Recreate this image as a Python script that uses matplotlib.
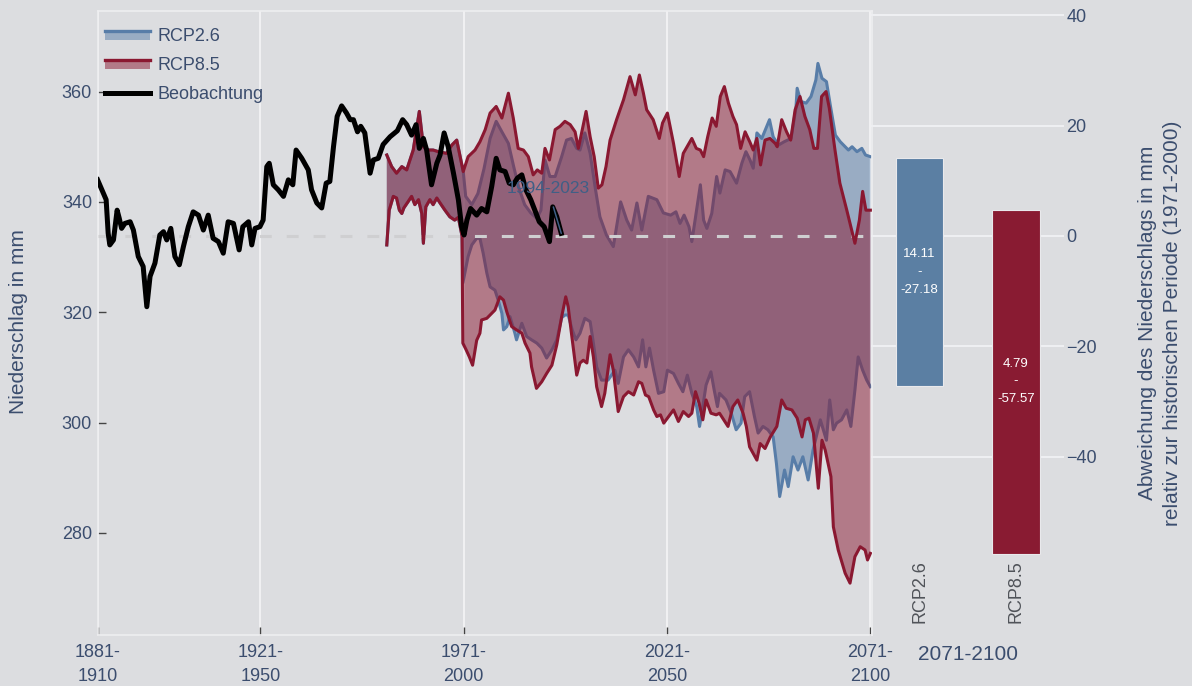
import numpy as np
import matplotlib.pyplot as plt
from matplotlib.lines import Line2D
from matplotlib.patches import Rectangle
from matplotlib.legend_handler import HandlerBase

plt.rcParams['font.family'] = ['Liberation Sans', 'DejaVu Sans']

BG = '#dcdde0'
TXT = '#3b4d6e'
BLUE = '#587da8'
RED = '#8a1831'
ANN = '#3f5f86'

# observed 30-year means (x = start year of window)
obs_years = [1881, 1883.1, 1883.6, 1884.0, 1884.9, 1885.8, 1886.3, 1886.9, 1887.7, 1889.0, 1889.8, 1891.0,
             1892.2, 1893.1, 1893.9, 1895.1, 1896.3, 1897.2, 1898.0, 1899.0, 1900.0, 1901.1, 1902.1, 1903.3,
             1904.5, 1905.8, 1907.0, 1908.2, 1909.4, 1910.7, 1911.9, 1913.1, 1914.4, 1915.8, 1916.7, 1918.1,
             1918.9, 1919.7, 1920.9, 1921.7, 1922.6, 1923.2, 1924.2, 1925.4, 1926.7, 1927.9, 1929.0, 1929.8,
             1931.2, 1932.8, 1933.6, 1934.9, 1936.1, 1937.2, 1938.1, 1939.0, 1939.9, 1941.0, 1942.2, 1943.1,
             1943.9, 1944.9, 1945.7, 1946.7, 1948.0, 1948.8, 1950.0, 1951.2, 1952.9, 1954.7, 1956.0, 1957.0,
             1958.2, 1959.3, 1960.1, 1961.1, 1961.9, 1963.1, 1964.4, 1965.2, 1966.2, 1967.2, 1968.5, 1969.7,
             1970.5, 1971.1, 1971.8, 1972.7, 1974.2, 1975.4, 1976.7, 1977.9, 1979.0, 1979.9, 1981.2, 1982.2,
             1983.2, 1984.2, 1985.3, 1986.3, 1987.5, 1988.5, 1989.6, 1990.8, 1992.1, 1992.9, 1993.9, 1995.0]
obs_vals = [344.0, 340.4, 334.3, 332.2, 333.1, 338.5, 337.1, 335.2, 336.1, 336.4, 334.9, 330.1,
            328.3, 321.0, 326.5, 328.9, 334.0, 334.6, 333.1, 335.2, 330.1, 328.6, 331.9, 335.5,
            338.2, 337.6, 334.9, 337.6, 333.4, 332.8, 330.7, 336.4, 336.1, 331.3, 335.5, 336.4,
            332.2, 335.2, 335.5, 336.7, 346.4, 347.0, 343.1, 342.2, 341.0, 344.0, 343.1, 349.4,
            347.9, 345.8, 342.2, 339.8, 338.9, 343.4, 343.7, 350.0, 355.5, 357.4, 356.1, 354.9,
            354.9, 352.7, 353.7, 352.5, 345.2, 347.6, 347.9, 350.4, 351.8, 352.9, 354.9, 354.0,
            352.1, 354.0, 349.7, 351.5, 349.4, 343.1, 347.0, 348.5, 352.5, 350.0, 345.2, 340.4,
            335.5, 334.0, 336.7, 338.8, 337.6, 338.8, 338.2, 342.8, 347.9, 345.8, 345.5, 343.4,
            343.1, 344.3, 344.9, 342.2, 340.4, 338.5, 336.4, 335.5, 332.8, 339.1, 337.3, 334.3]
obs_label = '1994-2023'

# mean of the reference period 1971-2000
baseline = 333.83

# model runs, historical part (same for both scenarios)
hist_up_years = [1952.1, 1953.3, 1954.5, 1955.8, 1957.0, 1958.6, 1960.1, 1961.1, 1962.3, 1963.5, 1964.8,
                 1966.8, 1968.1, 1969.3, 1970.9]
hist_up_vals = [348.5, 346.4, 345.2, 346.4, 345.8, 349.4, 356.4, 350.0, 349.4, 349.4, 349.1,
                348.8, 350.3, 351.2, 345.5]
hist_low_years = [1952.1, 1952.7, 1953.7, 1954.5, 1955.2, 1955.8, 1956.3, 1957.4, 1958.2, 1959.0, 1959.9,
                  1960.7, 1961.1, 1961.7, 1962.7, 1963.5, 1964.4, 1965.2, 1966.4, 1967.6, 1968.8, 1969.7,
                  1970.6]
hist_low_vals = [332.2, 338.5, 341.0, 340.7, 338.5, 337.9, 338.9, 340.1, 341.0, 339.5, 340.4,
                 337.9, 332.5, 339.1, 340.4, 339.5, 340.7, 339.8, 338.5, 337.3, 336.7, 337.2,
                 333.8]

# RCP8.5 ensemble max / min
r85_up_years = [1972.1, 1973.8, 1975.0, 1976.3, 1977.5, 1979.0, 1980.4, 1982.0, 1983.2, 1984.4, 1985.7,
                1986.9, 1988.1, 1989.1, 1990.2, 1991.0, 1992.1, 1993.5, 1994.7, 1995.9, 1997.2, 1998.4,
                1999.2, 2000.0, 2001.1, 2002.1, 2003.1, 2004.1, 2005.0, 2006.0, 2007.0, 2008.6, 2010.3,
                2011.9, 2013.2, 2014.2, 2015.2, 2016.0, 2017.6, 2019.1, 2019.9, 2021.1, 2022.6, 2024.0,
                2025.0, 2027.1, 2028.2, 2029.2, 2030.0, 2031.0, 2032.1, 2033.1, 2034.1, 2035.1, 2036.1,
                2037.2, 2038.1, 2039.1, 2040.2, 2041.4, 2042.2, 2043.1, 2044.0, 2045.1, 2046.3, 2047.6,
                2048.1, 2049.2, 2050.4, 2051.4, 2052.5, 2053.7, 2054.9, 2056.1, 2057.1, 2058.0, 2059.0,
                2060.1, 2060.9, 2062.3, 2063.5, 2065.2, 2067.2, 2068.3, 2069.1, 2069.9, 2071.0]
r85_up_vals = [348.2, 349.4, 350.9, 353.1, 356.1, 357.3, 355.2, 359.7, 355.2, 349.7, 349.4,
               348.2, 344.9, 345.8, 345.2, 349.7, 347.6, 353.1, 353.7, 354.6, 354.0, 352.7,
               349.7, 352.5, 356.4, 351.8, 348.2, 342.5, 343.1, 346.4, 351.2, 354.9, 358.5,
               362.7, 359.4, 363.0, 359.7, 356.7, 354.9, 351.5, 354.3, 356.1, 350.6, 344.6,
               348.8, 351.5, 349.7, 349.4, 348.2, 351.8, 355.2, 353.7, 359.1, 360.9, 357.9,
               355.5, 354.0, 349.7, 352.7, 350.8, 349.4, 351.5, 346.7, 351.2, 351.5, 350.6,
               350.0, 354.9, 352.7, 351.2, 356.7, 359.1, 355.5, 353.1, 349.7, 349.7, 359.1,
               360.0, 357.0, 349.4, 343.4, 338.5, 332.5, 336.7, 341.9, 338.5, 338.5]
r85_low_years = [1970.8, 1971.6, 1972.4, 1973.2, 1974.2, 1975.0, 1975.4, 1976.7, 1977.9, 1978.7, 1979.9,
                 1980.8, 1981.6, 1982.8, 1984.0, 1985.3, 1986.1, 1987.3, 1987.7, 1988.9, 1990.2, 1991.4,
                 1992.7, 1993.9, 1995.1, 1996.1, 1996.7, 1997.6, 1998.8, 1999.6, 2000.4, 2001.3, 2002.1,
                 2002.9, 2003.7, 2004.9, 2005.7, 2007.0, 2007.8, 2009.0, 2010.3, 2011.5, 2012.8, 2014.0,
                 2014.8, 2015.7, 2016.5, 2017.7, 2018.5, 2019.4, 2020.2, 2021.4, 2022.6, 2023.8, 2025.0,
                 2026.3, 2027.1, 2028.0, 2028.9, 2029.8, 2030.6, 2031.8, 2033.1, 2033.9, 2036.0, 2037.2,
                 2038.4, 2039.7, 2040.5, 2041.3, 2043.1, 2043.9, 2045.1, 2046.4, 2048.0, 2049.2, 2050.3,
                 2051.7, 2053.0, 2054.2, 2055.0, 2055.9, 2057.0, 2058.2, 2059.1, 2059.9, 2061.3, 2061.9,
                 2063.1, 2064.8, 2066.0, 2067.2, 2068.5, 2069.7, 2070.3, 2071.0]
r85_low_vals = [314.4, 313.2, 311.9, 310.4, 314.9, 316.2, 318.6, 318.9, 319.8, 320.4, 322.8,
                322.2, 320.1, 317.4, 316.8, 316.2, 314.4, 312.6, 310.1, 306.2, 307.4, 308.9,
                310.4, 314.1, 319.2, 322.8, 321.0, 315.6, 308.6, 310.8, 311.3, 310.8, 315.6,
                311.9, 306.5, 302.9, 305.3, 312.3, 309.5, 302.0, 304.7, 305.6, 305.0, 307.4,
                307.1, 305.0, 304.7, 302.3, 301.1, 301.4, 299.9, 301.1, 302.3, 300.2, 302.0,
                301.1, 301.7, 305.6, 303.5, 300.5, 304.1, 301.7, 301.4, 301.7, 299.3, 302.9,
                304.1, 301.7, 299.3, 295.6, 293.2, 296.2, 295.3, 297.4, 299.3, 304.1, 302.6,
                302.3, 300.8, 297.4, 300.5, 300.8, 298.1, 288.1, 296.8, 295.0, 290.2, 281.1,
                276.9, 272.7, 270.9, 275.7, 277.5, 276.9, 275.1, 276.3]

# RCP2.6 ensemble max / min
r26_up_years = [1971.5, 1973.0, 1974.5, 1976.0, 1977.5, 1979.0, 1980.4, 1982.0, 1983.3, 1984.6, 1986.0,
                1987.5, 1989.0, 1990.0, 1991.0, 1992.2, 1993.5, 1995.1, 1996.3, 1997.5, 1998.8, 1999.6,
                2000.8, 2002.1, 2003.3, 2004.5, 2006.1, 2007.8, 2009.6, 2011.1, 2012.3, 2013.6, 2014.8,
                2016.4, 2018.5, 2020.1, 2021.9, 2023.2, 2024.2, 2025.2, 2026.4, 2027.1, 2027.9, 2029.2,
                2030.0, 2030.8, 2032.0, 2033.2, 2034.0, 2035.3, 2036.5, 2038.1, 2039.4, 2040.4, 2041.4,
                2042.2, 2043.1, 2044.3, 2046.2, 2047.1, 2048.4, 2049.8, 2051.5, 2052.7, 2053.0, 2053.9,
                2055.2, 2056.4, 2057.6, 2058.1, 2059.1, 2060.2, 2061.2, 2062.4, 2063.6, 2064.8, 2065.6,
                2066.5, 2067.7, 2068.9, 2069.8, 2071.0]
r26_up_vals = [341.0, 339.5, 341.5, 346.0, 351.5, 354.6, 352.7, 350.6, 346.4, 342.5, 339.5,
               338.0, 337.0, 338.5, 347.6, 344.6, 344.6, 348.2, 351.2, 351.5, 349.7, 349.4,
               352.5, 348.8, 342.8, 337.3, 334.0, 331.9, 340.0, 336.7, 334.9, 339.8, 334.9,
               341.0, 340.4, 338.0, 337.6, 338.2, 336.1, 337.6, 335.5, 332.8, 336.7, 343.1,
               336.7, 335.2, 337.9, 344.6, 341.6, 345.8, 345.5, 343.4, 347.0, 349.1, 347.6,
               346.1, 352.5, 351.5, 354.9, 351.8, 350.3, 350.9, 351.5, 357.0, 360.6, 358.2,
               357.9, 359.1, 362.1, 365.1, 362.4, 361.8, 357.3, 352.1, 350.9, 350.0, 349.4,
               350.0, 349.1, 349.7, 348.5, 348.2]
r26_low_years = [1970.8, 1972.1, 1973.0, 1974.2, 1975.0, 1975.8, 1976.7, 1977.5, 1978.7, 1979.5, 1980.4,
                 1980.8, 1981.6, 1982.4, 1983.6, 1984.0, 1985.3, 1986.5, 1987.7, 1989.0, 1990.2, 1991.4,
                 1992.7, 1993.9, 1995.1, 1995.9, 1996.7, 1997.7, 1998.6, 1999.6, 2000.8, 2002.1, 2002.9,
                 2003.7, 2004.9, 2006.5, 2008.2, 2009.0, 2010.3, 2011.5, 2012.8, 2014.0, 2015.0, 2015.8,
                 2016.7, 2017.7, 2018.9, 2020.2, 2021.1, 2022.6, 2023.8, 2024.9, 2026.0, 2027.1, 2028.3,
                 2029.0, 2029.8, 2030.6, 2031.8, 2032.6, 2033.4, 2033.9, 2035.5, 2036.8, 2038.0, 2039.2,
                 2040.1, 2041.3, 2042.5, 2043.4, 2044.6, 2045.8, 2047.1, 2047.9, 2048.7, 2049.9, 2050.8,
                 2052.0, 2053.2, 2054.4, 2055.7, 2056.9, 2058.7, 2060.2, 2061.0, 2061.9, 2062.7, 2063.9,
                 2065.2, 2066.2, 2067.2, 2068.0, 2069.1, 2070.1, 2071.0]
r26_low_vals = [325.3, 330.1, 332.2, 333.4, 333.4, 330.7, 327.1, 324.6, 324.0, 322.2, 319.8,
                316.8, 317.4, 319.2, 316.2, 315.0, 318.0, 315.6, 315.0, 314.4, 313.5, 311.7,
                313.2, 315.0, 319.0, 319.5, 319.5, 316.8, 315.0, 316.2, 318.9, 318.3, 314.4,
                310.1, 307.7, 307.7, 309.5, 307.1, 311.9, 313.2, 311.9, 310.1, 315.0, 310.1,
                313.5, 309.5, 305.3, 305.6, 309.5, 308.9, 307.1, 305.6, 308.6, 305.3, 302.9,
                299.3, 302.9, 306.8, 309.2, 305.9, 302.9, 305.3, 304.1, 301.7, 298.7, 299.9,
                304.7, 305.6, 301.1, 298.1, 299.3, 298.7, 297.4, 292.6, 286.6, 291.4, 288.4,
                293.8, 291.4, 293.8, 289.6, 295.0, 300.5, 296.8, 304.1, 298.7, 299.9, 300.5,
                302.3, 299.3, 305.9, 311.9, 309.5, 307.7, 306.5]

# deviation ranges 2071-2100
scenarios = ['RCP2.6', 'RCP8.5']
dev_top = [14.11, 4.79]
dev_bottom = [-27.18, -57.57]
bar_period = '2071-2100'

x_ticks = [1881, 1921, 1971, 2021, 2071]
x_ticklabels = ['1881-\n1910', '1921-\n1950', '1971-\n2000', '2021-\n2050', '2071-\n2100']
y_ticks = [280, 300, 320, 340, 360]
dev_ticks = [-40, -20, 0, 20, 40]


class BandHandler(HandlerBase):
    # legend entry like plotly: filled band with the line on its top edge
    def create_artists(self, legend, orig_handle, xdescent, ydescent, width, height, fontsize, trans):
        c = orig_handle.get_color()
        y0 = -ydescent + 0.1 * height
        y1 = -ydescent + 0.85 * height
        r = Rectangle((-xdescent, y0), width, y1 - y0, facecolor=c, alpha=0.5, lw=0, transform=trans)
        l = Line2D([-xdescent, -xdescent + width], [y1, y1], color=c, lw=2.4, transform=trans)
        return [r, l]


W, H = 1192, 686
fig = plt.figure(figsize=(W / 100, H / 100), dpi=100, facecolor=BG)


def px_box(left, top, right, bottom):
    return [left / W, 1 - bottom / H, (right - left) / W, (bottom - top) / H]


ax = fig.add_axes(px_box(97.6, 11, 872, 635))
ax.set_facecolor(BG)
ax.set_xlim(1881, 2071.4)
ax.set_ylim(261.5, 374.6)


def band(up_x, up_y, low_x, low_y, color, z):
    xs = np.concatenate([up_x, low_x[::-1]])
    ys = np.concatenate([up_y, low_y[::-1]])
    ax.fill(xs, ys, color=color, alpha=0.5, lw=0, zorder=z)
    ax.plot(up_x, up_y, color=color, lw=2.2, zorder=z + 0.5, solid_joinstyle='round')
    ax.plot(low_x, low_y, color=color, lw=2.2, zorder=z + 0.5, solid_joinstyle='round')


for up_x, up_y, low_x, low_y, color, z in [
        (r26_up_years, r26_up_vals, r26_low_years, r26_low_vals, BLUE, 1),
        (r85_up_years, r85_up_vals, r85_low_years, r85_low_vals, RED, 3)]:
    band(np.array(hist_up_years + up_x), np.array(hist_up_vals + up_y),
         np.array(hist_low_years + low_x), np.array(hist_low_vals + low_y), color, z)

ax.axhline(baseline, color='#cfcfd1', lw=2.2, dashes=(3.9, 4.9), zorder=3.2)
ax.plot(obs_years, obs_vals, color='black', lw=3.6, zorder=6, solid_joinstyle='round')

ax.annotate(obs_label, xy=(obs_years[-1], obs_vals[-1]), xytext=(1991.7, 342.4),
            color=ANN, fontsize=12.5, ha='center', va='center', zorder=8,
            arrowprops=dict(arrowstyle='-', color=ANN, lw=1.1, shrinkA=6, shrinkB=0))

ax.set_xticks(x_ticks)
ax.set_xticklabels(x_ticklabels, linespacing=1.55)
ax.set_yticks(y_ticks)
ax.tick_params(axis='both', direction='in', length=5.5, width=1, color='#444444',
               labelcolor=TXT, labelsize=13, pad=4)
ax.tick_params(axis='x', pad=6.5)
ax.grid(axis='x', color='#f7f7f8', lw=1.1)
ax.set_axisbelow(True)
for s in ax.spines.values():
    s.set_color('#eeeef0')
    s.set_linewidth(1.2)

h26 = Line2D([], [], color=BLUE)
h85 = Line2D([], [], color=RED)
hobs = Line2D([], [], color='black', lw=3.6)
ax.legend([h26, h85, hobs], ['RCP2.6', 'RCP8.5', 'Beobachtung'],
          handler_map={h26: BandHandler(), h85: BandHandler()},
          loc='upper left', bbox_to_anchor=(0.0096, 0.972), frameon=False, fontsize=13,
          labelcolor=TXT, handlelength=2.5, handletextpad=0.4, labelspacing=0.66,
          borderpad=0, borderaxespad=0)

fig.text(19 / W, 1 - 322 / H, 'Niederschlag in mm', rotation=90, ha='center', va='center',
         fontsize=15, color=TXT)

# deviation bars on the right
ax2 = fig.add_axes(px_box(871.3, 11, 1064.3, 556))
ax2.patch.set_visible(False)
y0, y1 = ax.get_ylim()
per_px = (y1 - y0) / (635 - 11)
ax2.set_ylim(y1 - baseline - (556 - 11) * per_px, y1 - baseline)
ax2.set_xlim(-0.5, 1.5)
xpos = np.arange(len(scenarios))
heights = np.array(dev_top) - np.array(dev_bottom)
ax2.bar(xpos, heights, bottom=dev_bottom, width=0.49, color=['#5b7fa3', '#891b32'],
        edgecolor='#e9e9ec', lw=0.8, zorder=2)
for i in range(len(scenarios)):
    ax2.text(xpos[i], (dev_top[i] + dev_bottom[i]) / 2, f'{dev_top[i]:.2f}\n-\n{dev_bottom[i]:.2f}',
             ha='center', va='center', color='white', fontsize=9.5, linespacing=1.62, zorder=3)
ax2.set_yticks(dev_ticks)
ax2.yaxis.tick_right()
ax2.grid(axis='y', color='#eff0f3', lw=1.4, zorder=0)
ax2.set_axisbelow(True)
ax2.set_xticks(xpos)
ax2.set_xticklabels(scenarios, rotation=90, fontsize=13, color='#505359')
ax2.tick_params(axis='x', length=0, pad=3)
ax2.tick_params(axis='y', length=0, pad=1.5, labelsize=13, labelcolor=TXT)
for s in ax2.spines.values():
    s.set_visible(False)
ax2.set_xlabel(bar_period, fontsize=15, color=TXT, labelpad=16)

fig.text(1160 / W, 1 - 323 / H,
         'Abweichung des Niederschlags in mm\nrelativ zur historischen Periode (1971-2000)',
         rotation=90, ha='center', va='center', fontsize=15, color=TXT, linespacing=1.35,
         multialignment='center')

fig.savefig('out.png', dpi=100, facecolor=BG)
